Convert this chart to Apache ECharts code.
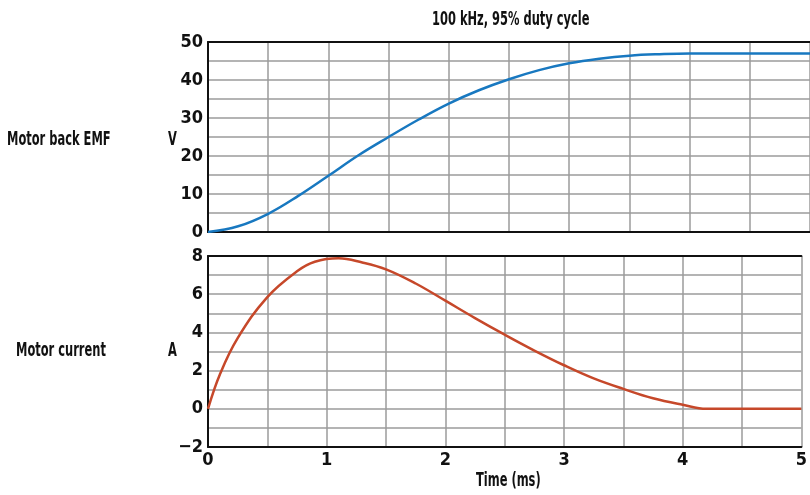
<!DOCTYPE html>
<html><head><meta charset="utf-8">
<script src="https://cdn.jsdelivr.net/npm/echarts@6/dist/echarts.min.js"></script>
<style>html,body{margin:0;padding:0;background:#fff}#c{width:810px;height:495px}</style>
</head><body><div id="c"></div>
<script>
const emfTime = [0, 0.25, 0.5, 0.75, 1.0, 1.25, 1.5, 1.75, 2.0, 2.25, 2.5, 2.75, 3.0, 3.25, 3.5, 3.75, 4.0, 4.5, 5.0];
const emfValues = [0, 1.5, 4.8, 9.5, 14.8, 20.2, 25.0, 29.6, 33.8, 37.3, 40.2, 42.6, 44.4, 45.6, 46.4, 46.8, 47.0, 47.0, 47.0];
const curTime = [0, 0.1, 0.25, 0.5, 0.75, 0.9, 1.1, 1.3, 1.5, 1.75, 2.0, 2.25, 2.5, 2.75, 3.0, 3.25, 3.5, 3.75, 4.0, 4.2, 4.5, 5.0];
const curValues = [0, 1.8, 3.7, 5.85, 7.2, 7.7, 7.88, 7.66, 7.3, 6.56, 5.66, 4.75, 3.88, 3.05, 2.28, 1.59, 1.04, 0.55, 0.21, 0, 0, 0];
const xTicks = ['0', '1', '2', '3', '4', '5'];
const emfTicks = [0, 10, 20, 30, 40, 50];
const curTicks = ['\u22122', '0', '2', '4', '6', '8'];

const FONT = "'DejaVu Sans Condensed','DejaVu Sans',sans-serif";
const grid = '#9b9b9b';
const pair = (t, v) => t.map((x, i) => [x, v[i]]);

const chart = echarts.init(document.getElementById('c'));
const xBase = (gi, labels) => ({
  type: 'value', gridIndex: gi, min: 0, max: 5, interval: 0.5,
  axisLine: { show: true, onZero: false, lineStyle: { color: '#111', width: 2 } },
  axisTick: { show: false },
  splitLine: { show: true, lineStyle: { color: grid, width: 1.5 } },
  axisLabel: labels ? { show: true, fontFamily: FONT, fontWeight: 'bold', fontSize: 18, color: '#111', margin: 4,
    formatter: v => Number.isInteger(v) ? xTicks[v] : '' } : { show: false }
});
const xTop = gi => ({
  type: 'value', gridIndex: gi, position: 'top', min: 0, max: 5,
  axisLine: { show: true, onZero: false, lineStyle: { color: '#111', width: 2 } },
  axisTick: { show: false }, axisLabel: { show: false }, splitLine: { show: false }
});
const label = (txt, x, y) => ({ type: 'text', x: x, y: y, scaleX: 0.67,
  style: { text: txt, font: "bold 19px " + FONT, fill: '#111', textVerticalAlign: 'top' } });

chart.setOption({
  animation: false,
  grid: [
    { left: 208, top: 42, width: 602, height: 190 },
    { left: 208, top: 256, width: 602, height: 191 }
  ],
  xAxis: [xBase(0, false), xBase(1, true), xTop(0), xTop(1)],
  yAxis: [
    { type: 'value', gridIndex: 0, min: 0, max: 50, interval: 5,
      axisLine: { show: true, lineStyle: { color: '#111', width: 2 } }, axisTick: { show: false },
      splitLine: { show: true, lineStyle: { color: grid, width: 1.5 } },
      axisLabel: { fontFamily: FONT, fontWeight: 'bold', fontSize: 18, color: '#111', margin: 5,
        formatter: v => emfTicks.includes(v) ? String(v) : '' } },
    { type: 'value', gridIndex: 1, min: -2, max: 8, interval: 1,
      axisLine: { show: true, lineStyle: { color: '#111', width: 2 } }, axisTick: { show: false },
      splitLine: { show: true, lineStyle: { color: grid, width: 1.5 } },
      axisLabel: { fontFamily: FONT, fontWeight: 'bold', fontSize: 18, color: '#111', margin: 5,
        formatter: v => (v % 2 === 0) ? curTicks[(v + 2) / 2] : '' } }
  ],
  series: [
    { type: 'line', xAxisIndex: 0, yAxisIndex: 0, data: pair(emfTime, emfValues), smooth: 0.4,
      showSymbol: false, lineStyle: { color: '#1878c0', width: 2.5 }, z: 5 },
    { type: 'line', xAxisIndex: 1, yAxisIndex: 1, data: pair(curTime, curValues), smooth: 0.4,
      smoothConstraint: false,
      showSymbol: false, lineStyle: { color: '#c6482a', width: 2.5 }, z: 5 }
  ],
  graphic: [
    label('100 kHz, 95% duty cycle', 432, 11),
    label('Motor back EMF', 7, 131),
    label('V', 168, 131),
    label('Motor current', 16, 342),
    label('A', 168, 342),
    label('Time (ms)', 476, 472)
  ]
});
</script></body></html>
